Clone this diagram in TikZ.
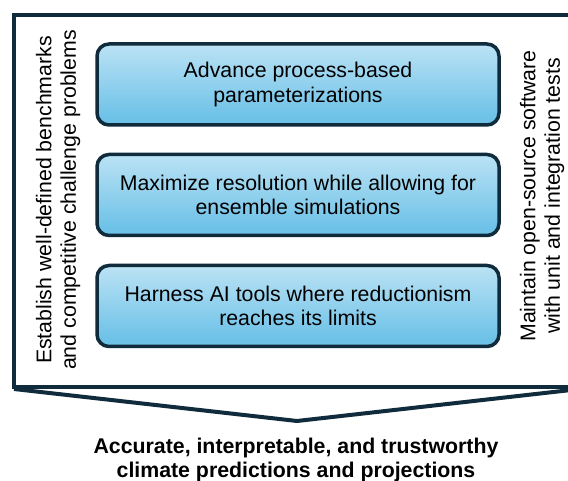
\documentclass[tikz,border=0pt]{standalone}
\usepackage{fontspec}
\setmainfont{Liberation Sans}
\definecolor{navy}{HTML}{0F2B3C}
\definecolor{shbot}{HTML}{8ED0EE}
\definecolor{shmid}{HTML}{6EC2E8}
\definecolor{shtop}{HTML}{E6F4FB}
\pgfdeclareverticalshading{boxshade}{100bp}{color(0bp)=(shbot); color(8bp)=(shmid); color(30bp)=(shmid); color(100bp)=(shtop)}
\tikzset{
  goalbox/.style={draw=navy, line width=3.5pt, rounded corners=12pt, shading=boxshade,
    minimum width=402pt, minimum height=81pt, align=center, inner sep=0pt,
    font=\fontsize{21.3}{24.5}\selectfont, text=black},
  sidetext/.style={align=center, font=\fontsize{21.3}{24.5}\selectfont, text=black},
  frame/.style={draw=navy, line width=4pt},
}
\begin{document}
\begin{tikzpicture}[x=1pt,y=1pt]
\useasboundingbox (0,0) rectangle (568,481);
\clip (0,0) rectangle (568,481);
\coordinate (tr) at (575,466);
\coordinate (tl) at (14,466);
\coordinate (bl) at (14,94);
\coordinate (br) at (575,94);
\coordinate (vl) at (14,92);
\coordinate (vt) at (297,60);
\coordinate (vr) at (580,92);
\draw[frame, line join=miter] (tr) -- (tl) -- (bl) -- (br);
\draw[frame, line join=miter] (vl) -- (vt) -- (vr);
\node[goalbox] (b1) at (298,396.5) {Advance process-based\\parameterizations};
\node[goalbox] (b2) at (298,286) {Maximize resolution while allowing for\\ensemble simulations};
\node[goalbox] (b3) at (298,175) {Harness AI tools where reductionism\\reaches its limits};
\node[sidetext, rotate=90] (lt) at (58,281) {Establish well-defined benchmarks\\and competitive challenge problems};
\node[sidetext, rotate=90] (rt) at (542,285) {Maintain open-source software\\with unit and integration tests};
\node[align=center, font=\fontsize{21.3}{24}\selectfont\bfseries, text=black] (out) at (296,21) {Accurate, interpretable, and trustworthy\\climate predictions and projections};
\end{tikzpicture}
\end{document}
